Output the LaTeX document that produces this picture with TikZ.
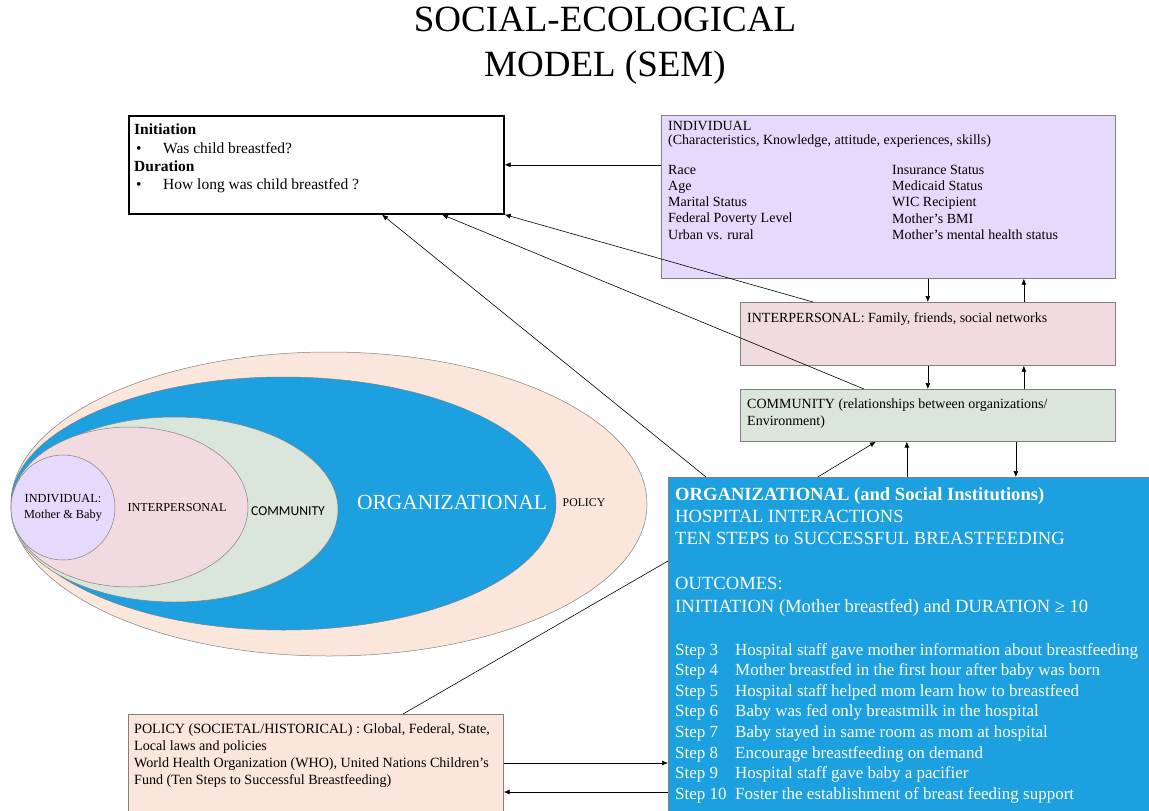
\documentclass[tikz,border=0pt]{standalone}
\usepackage{fontspec}
\setmainfont{Liberation Serif}
\newfontfamily\calib{Carlito}
\usetikzlibrary{arrows.meta}

\definecolor{indfill}{RGB}{229,218,251}
\definecolor{interfill}{RGB}{242,219,224}
\definecolor{commfill}{RGB}{219,230,219}
\definecolor{orgfill}{RGB}{28,160,224}
\definecolor{polfill}{RGB}{250,230,218}
\definecolor{edge}{RGB}{128,128,128}

\begin{document}
\begin{tikzpicture}[x=1pt,y=-1pt,
  box/.style={draw=edge,line width=0.7pt,anchor=north west,inner sep=0pt},
  txt/.style={anchor=north west,inner sep=0pt,align=left,font=\fontsize{14}{16.2}\selectfont},
  arr/.style={-{Latex[length=6pt,width=5pt]},line width=0.6pt},
  ring/.style={draw=edge,line width=0.5pt}]
\useasboundingbox (0,0) rectangle (1149,811);

% Title
\node[align=center,font=\fontsize{37}{45}\selectfont] (title) at (605,46) {SOCIAL-ECOLOGICAL\\MODEL (SEM)};

% Nested ellipses of the model
\filldraw[ring,fill=polfill] (329,504) ellipse [x radius=318pt,y radius=152pt];
\filldraw[ring,fill=orgfill] (283.5,503.5) ellipse [x radius=272.5pt,y radius=126.5pt];
\filldraw[ring,fill=commfill] (174.5,509.5) ellipse [x radius=163.5pt,y radius=92.5pt];
\filldraw[ring,fill=interfill] (129.5,507) ellipse [x radius=118.5pt,y radius=80pt];
\filldraw[ring,fill=indfill] (63,507.5) ellipse [x radius=52pt,y radius=52.5pt];
\node[align=center,font=\fontsize{12.3}{15.5}\selectfont] (eind) at (63,508) {INDIVIDUAL:\\Mother \& Baby};
\node[font=\fontsize{12.2}{14}\selectfont] (einter) at (177,508) {INTERPERSONAL};
\node[font=\calib\fontsize{13.6}{15}\selectfont] (ecomm) at (288,511) {COMMUNITY};
\node[text=white,font=\fontsize{21.5}{24}\selectfont] (eorg) at (452,502) {ORGANIZATIONAL};
\node[font=\fontsize{11.8}{14}\selectfont] (epol) at (584,503) {POLICY};

% Outcome box
\node[box,draw=black,line width=1.6pt,minimum width=375,minimum height=98] (out) at (128,115) {};
\node[txt,font=\fontsize{15.5}{18.3}\selectfont] (outtxt) at (134,124) {\textbf{Initiation}\\
  \hspace*{2pt}\makebox[27pt][l]{\textbullet}Was child breastfed?\\
  \textbf{Duration}\\
  \hspace*{2pt}\makebox[27pt][l]{\textbullet}How long was child breastfed ?};

% Individual box
\node[box,fill=indfill,minimum width=454,minimum height=163] (ind) at (661,115) {};
\node[txt,font=\fontsize{14}{14.5}\selectfont] (indhead) at (668,121) {INDIVIDUAL\\(Characteristics, Knowledge, attitude, experiences, skills)};
\node[txt] (indleft) at (668,165) {Race\\Age\\Marital Status\\Federal Poverty Level\\Urban vs. rural};
\node[txt] (indright) at (892,165) {Insurance Status\\Medicaid Status\\WIC Recipient\\Mother’s BMI\\Mother’s mental health status};

% Interpersonal and community boxes
\node[box,fill=interfill,minimum width=375,minimum height=63] (inter) at (740,302) {};
\node[txt] (intertxt) at (747,312) {INTERPERSONAL: Family, friends, social networks};
\node[box,fill=commfill,minimum width=375,minimum height=52] (comm) at (740,389) {};
\node[txt,font=\fontsize{14}{17}\selectfont] (commtxt) at (747,399) {COMMUNITY (relationships between organizations/\\Environment)};

% Organizational box
\node[box,fill=orgfill,minimum width=500,minimum height=350] (org) at (668,477) {};
\node[txt,text=white,font=\fontsize{18.6}{22.4}\selectfont] (orghead) at (675,487) {\textbf{ORGANIZATIONAL (and Social Institutions)}\\
  HOSPITAL INTERACTIONS\\
  TEN STEPS to SUCCESSFUL BREASTFEEDING\\[22.4pt]
  OUTCOMES:\\
  INITIATION (Mother breastfed) and DURATION ≥ 10};
\node[txt,text=white,font=\fontsize{17}{20.6}\selectfont] (orgsteps) at (675,643) {%
  \makebox[60pt][l]{Step 3}Hospital staff gave mother information about breastfeeding\\
  \makebox[60pt][l]{Step 4}Mother breastfed in the first hour after baby was born\\
  \makebox[60pt][l]{Step 5}Hospital staff helped mom learn how to breastfeed\\
  \makebox[60pt][l]{Step 6}Baby was fed only breastmilk in the hospital\\
  \makebox[60pt][l]{Step 7}Baby stayed in same room as mom at hospital\\
  \makebox[60pt][l]{Step 8}Encourage breastfeeding on demand\\
  \makebox[60pt][l]{Step 9}Hospital staff gave baby a pacifier\\
  \makebox[60pt][l]{Step 10}Foster the establishment of breast feeding support};

% Policy box
\node[box,fill=polfill,minimum width=375,minimum height=110] (pol) at (128,714) {};
\node[txt,font=\fontsize{14.1}{16.8}\selectfont] (poltxt) at (134,724) {POLICY (SOCIETAL/HISTORICAL) : Global, Federal, State,\\
  Local laws and policies\\
  World Health Organization (WHO), United Nations Children’s\\
  Fund (Ten Steps to Successful Breastfeeding)};

% Arrows between the levels
\draw[arr] (ind.west |- out.east) -- (out.east);
\draw[arr] (inter.north |- ind.south) -- (inter.north);
\draw[arr] ([xshift=96]inter.north) -- ([xshift=96]inter.north |- ind.south);
\draw[arr] (inter.south) -- (comm.north);
\draw[arr] ([xshift=96]comm.north) -- ([xshift=96]comm.north |- inter.south);
\draw[arr] ([xshift=-110]comm.south |- org.north) -- ([xshift=-52]comm.south);
\draw[arr] ([xshift=-21]comm.south |- org.north) -- ([xshift=-21]comm.south);
\draw[arr] ([xshift=88]comm.south) -- ([xshift=88]comm.south |- org.north);
\draw[arr] ([yshift=-49]pol.north east) -- ([yshift=-49]pol.north east -| org.west);
\draw[arr] ([yshift=-78]pol.north east -| org.west) -- ([yshift=-78]pol.north east);

% Lines up to the outcome box
\draw[arr] ([xshift=73]inter.north west) -- (out.south east);
\draw[arr] ([xshift=124]comm.north west) -- ([xshift=314]out.south west);
\draw[arr] ([xshift=38]org.north west) -- ([xshift=254]out.south west);
\draw[line width=0.6pt] ([xshift=275]pol.north west) -- ([yshift=-84]org.north west);

\end{tikzpicture}
\end{document}
